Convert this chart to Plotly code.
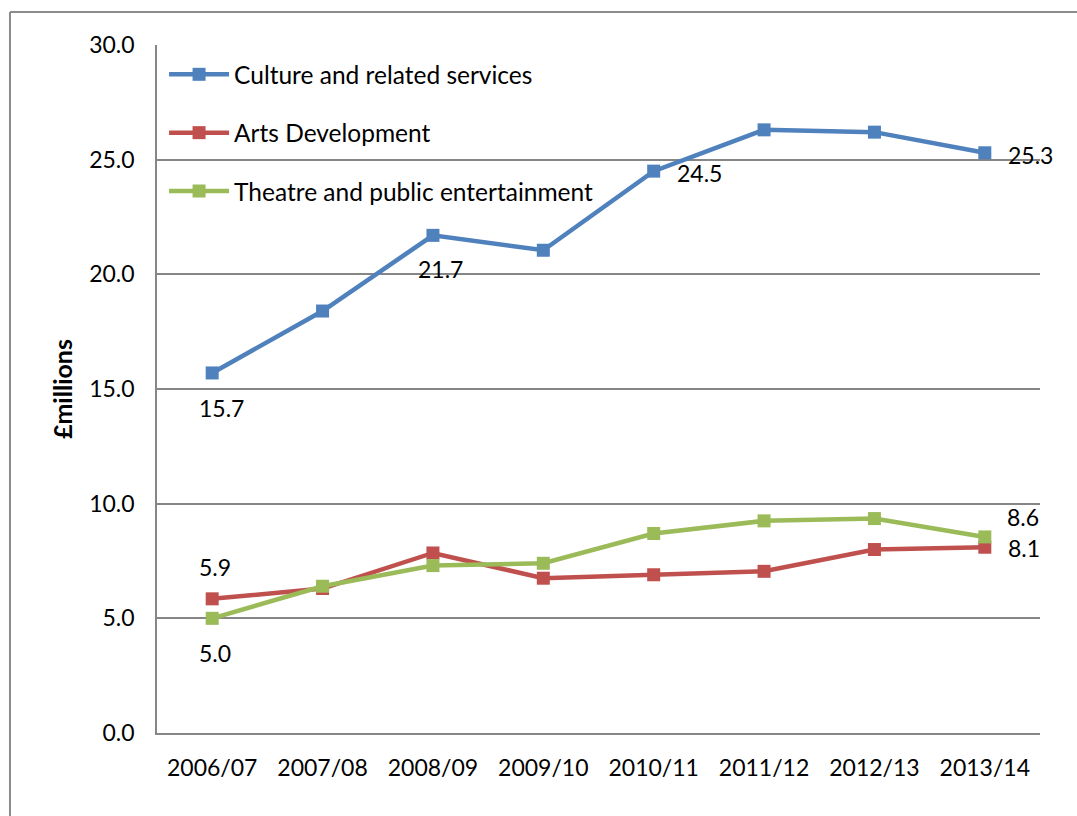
import plotly.graph_objects as go

years = ["2006/07", "2007/08", "2008/09", "2009/10", "2010/11", "2011/12", "2012/13", "2013/14"]
culture = [15.7, 18.4, 21.7, 21.05, 24.5, 26.3, 26.2, 25.3]
arts = [5.85, 6.3, 7.85, 6.75, 6.9, 7.05, 8.0, 8.1]
theatre = [5.0, 6.4, 7.3, 7.4, 8.7, 9.25, 9.35, 8.55]

series_names = ["Culture and related services", "Arts Development", "Theatre and public entertainment"]
colors = ["#4F81BD", "#C0504D", "#9BBB59"]

# data labels: (series index, category index, text)
label_points = [
    (0, 0, "15.7"), (0, 2, "21.7"), (0, 4, "24.5"), (0, 7, "25.3"),
    (1, 0, "5.9"), (1, 7, "8.1"),
    (2, 0, "5.0"), (2, 7, "8.6"),
]
label_offsets = {
    (0, 0): (9, -35), (0, 2): (8, -34), (0, 4): (46, -2), (0, 7): (46, -2),
    (1, 0): (3, 32), (1, 7): (39, -1),
    (2, 0): (3, -35), (2, 7): (38, 20),
}

FONT = "Lato, Carlito, Calibri, sans-serif"
all_series = [culture, arts, theatre]

fig = go.Figure()
for i, (name, vals) in enumerate(zip(series_names, all_series)):
    fig.add_trace(go.Scatter(
        x=years, y=vals, name=name, mode="lines+markers",
        line=dict(color=colors[i], width=4.5),
        marker=dict(symbol="square", size=13, color=colors[i]),
        legendgroup=str(i),
    ))

for si, ci, txt in label_points:
    dx, dy = label_offsets[(si, ci)]
    fig.add_annotation(x=years[ci], y=all_series[si][ci], text=txt, showarrow=False,
                       xshift=dx, yshift=dy, font=dict(size=23, color="black", family=FONT))

fig.add_annotation(xref="paper", yref="paper", x=-0.1075, y=0.5, xanchor="center", yanchor="middle",
                   text="<b>£millions</b>", textangle=-90, showarrow=False,
                   font=dict(size=25, color="black", family=FONT))

# outer chart border (left and top edges visible)
fig.add_shape(type="line", xref="paper", yref="paper", x0=-0.1665, x1=-0.1665, y0=-0.2, y1=1.0480,
              line=dict(color="#8c8c8c", width=2))
fig.add_shape(type="line", xref="paper", yref="paper", x0=-0.1665, x1=1.1, y0=1.0480, y1=1.0480,
              line=dict(color="#8c8c8c", width=2))

fig.update_layout(
    width=1077, height=816,
    margin=dict(l=157, r=37, t=45, b=83),
    plot_bgcolor="white", paper_bgcolor="white",
    font=dict(family=FONT, size=23, color="black"),
    showlegend=True,
    legend=dict(x=0.008, y=0.99, xanchor="left", yanchor="top", bgcolor="rgba(0,0,0,0)",
                font=dict(size=24.5, family=FONT), tracegroupgap=23.5, itemwidth=60),
    xaxis=dict(type="category", range=[-0.5, 7.5], showgrid=False, showline=True,
               linecolor="#868686", linewidth=1.5, ticks="", tickfont=dict(size=23),
               ticklabelstandoff=14),
    yaxis=dict(range=[0, 30], dtick=5, tickformat=".1f", showgrid=True, gridcolor="#868686",
               gridwidth=1.5, showline=True, linecolor="#868686", linewidth=1.5, ticks="",
               zeroline=False, tickfont=dict(size=23), ticklabelstandoff=16),
)

fig.write_html("out.html")
